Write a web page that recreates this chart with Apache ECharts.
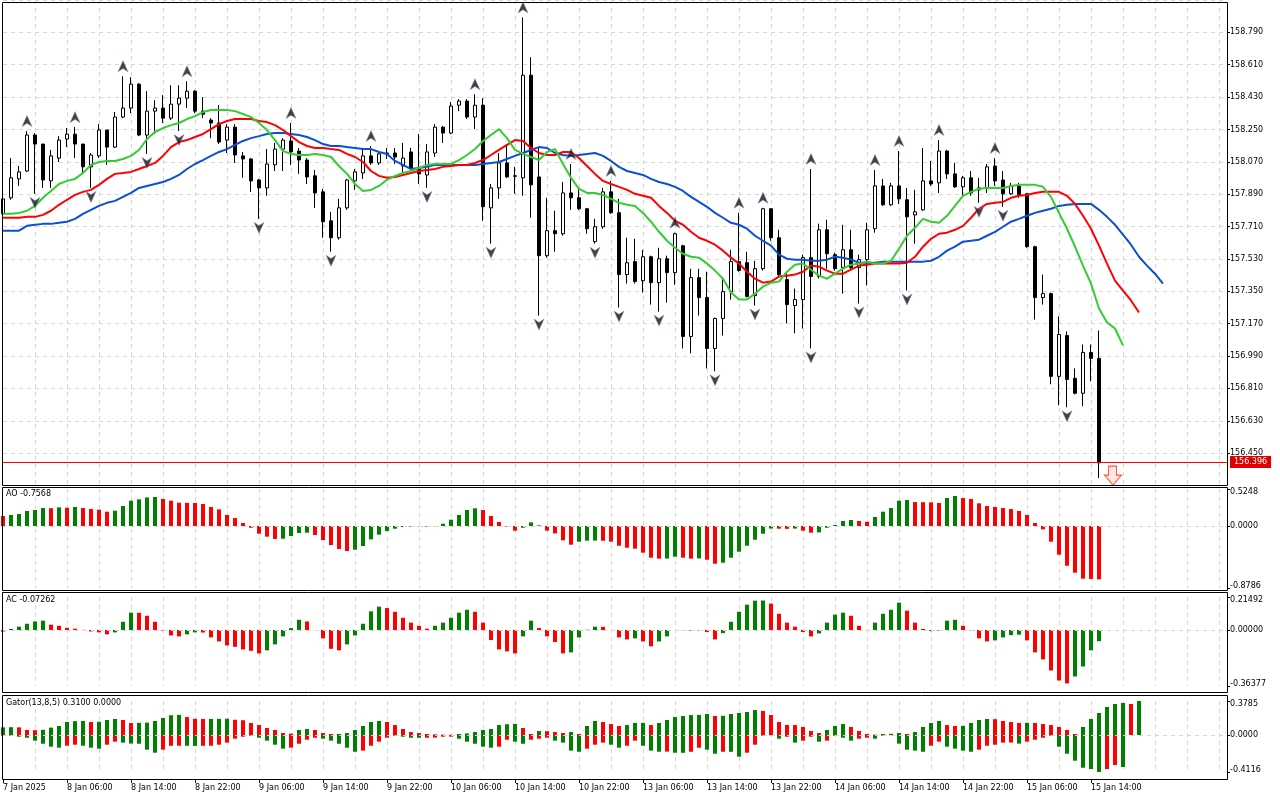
<!DOCTYPE html>
<html>
<head>
<meta charset="utf-8">
<script src="https://cdn.jsdelivr.net/npm/echarts@6/dist/echarts.min.js"></script>
<style>
html, body { margin: 0; padding: 0; background: #fff; }
#chart { width: 1280px; height: 800px; }
</style>
</head>
<body>
<div id="chart"></div>
<script>
// H1 bars, 7 Jan 22:00 .. 15 Jan 15:00
var timeLabels = ['7 Jan 2025', '8 Jan 06:00', '8 Jan 14:00', '8 Jan 22:00', '9 Jan 06:00', '9 Jan 14:00',
    '9 Jan 22:00', '10 Jan 06:00', '10 Jan 14:00', '10 Jan 22:00', '13 Jan 06:00', '13 Jan 14:00',
    '13 Jan 22:00', '14 Jan 06:00', '14 Jan 14:00', '14 Jan 22:00', '15 Jan 06:00', '15 Jan 14:00'];

var opens = [157.781,157.870,157.975,158.019,158.219,158.169,157.964,158.091,158.197,158.224,
    158.169,158.042,158.103,158.247,158.152,158.319,158.369,158.502,158.219,158.352,
    158.369,158.313,158.391,158.424,158.463,158.352,158.302,158.286,158.191,158.263,
    158.103,158.086,157.969,157.925,158.053,158.141,158.186,158.130,158.080,157.992,
    157.903,157.742,157.648,157.814,157.964,158.008,158.103,158.064,158.119,158.119,
    158.047,158.125,158.030,157.997,158.119,158.263,158.230,158.385,158.408,158.319,
    158.385,157.814,157.925,158.064,157.992,157.981,158.552,157.986,157.548,157.687,
    157.670,157.897,157.870,157.809,157.626,157.709,157.903,157.787,157.443,157.515,
    157.409,157.542,157.398,157.531,157.454,157.603,157.099,157.426,157.315,157.032,
    157.199,157.348,157.515,157.509,157.326,157.476,157.809,157.648,157.415,157.271,
    157.304,157.537,157.432,157.692,157.554,157.482,157.581,157.482,157.526,157.698,
    157.936,157.831,157.936,157.859,157.775,157.803,157.964,157.953,158.130,158.003,
    157.931,157.981,157.914,157.925,158.047,157.969,157.892,157.936,157.892,157.598,
    157.315,157.337,156.877,157.104,156.866,156.783,157.010,156.977];
var highs = [157.875,158.091,158.047,158.241,158.230,158.169,158.136,158.213,158.258,158.263,
    158.169,158.119,158.280,158.247,158.347,158.546,158.541,158.507,158.463,158.413,
    158.441,158.496,158.496,158.518,158.469,158.430,158.313,158.385,158.280,158.280,
    158.125,158.091,157.975,158.141,158.175,158.202,158.286,158.147,158.091,158.025,
    157.920,157.792,157.864,157.975,158.030,158.147,158.158,158.119,158.147,158.147,
    158.175,158.147,158.224,158.169,158.280,158.269,158.402,158.419,158.419,158.446,
    158.424,157.947,158.119,158.169,158.042,158.873,158.652,158.147,157.870,157.798,
    157.958,158.058,157.920,157.814,157.753,157.925,157.964,157.864,157.648,157.642,
    157.581,157.548,157.592,157.548,157.676,157.609,157.476,157.476,157.459,157.204,
    157.426,157.581,157.787,157.570,157.520,157.814,157.809,157.692,157.448,157.365,
    157.554,158.030,157.726,157.748,157.565,157.720,157.692,157.554,157.731,158.025,
    157.975,157.953,158.130,157.925,157.914,158.147,158.075,158.191,158.136,158.064,
    157.992,158.019,157.981,158.058,158.091,158.019,157.953,157.953,157.897,157.603,
    157.443,157.343,157.210,157.127,156.921,157.054,157.054,157.132];
var lows = [157.770,157.859,157.936,158.014,157.892,157.925,157.925,158.069,158.152,158.091,
    158.003,157.925,158.091,158.053,158.147,158.313,158.341,158.213,158.114,158.224,
    158.286,158.302,158.241,158.369,158.341,158.313,158.202,158.169,158.119,158.064,
    157.981,157.903,157.753,157.881,158.019,158.019,158.053,158.003,157.947,157.814,
    157.648,157.570,157.637,157.803,157.914,157.975,158.053,158.053,158.086,158.058,
    158.003,158.030,157.947,157.925,158.097,158.175,158.224,158.352,158.308,158.252,
    157.742,157.615,157.864,157.981,157.892,157.881,157.759,157.215,157.537,157.570,
    157.659,157.803,157.803,157.670,157.615,157.698,157.781,157.260,157.393,157.393,
    157.343,157.276,157.237,157.287,157.387,157.032,157.005,157.215,156.921,156.905,
    157.104,157.304,157.459,157.315,157.271,157.465,157.631,157.432,157.171,157.116,
    157.143,157.032,157.421,157.476,157.465,157.337,157.470,157.282,157.382,157.676,
    157.825,157.825,157.836,157.354,157.615,157.798,157.936,157.897,157.975,157.925,
    157.881,157.881,157.842,157.897,157.936,157.820,157.886,157.870,157.592,157.193,
    157.276,156.833,156.716,156.705,156.777,156.711,156.849,156.312];
var closes = [157.864,157.981,158.014,158.219,158.169,157.969,158.103,158.191,158.224,158.169,
    158.042,158.108,158.247,158.152,158.319,158.369,158.502,158.219,158.352,158.369,
    158.313,158.391,158.424,158.463,158.352,158.335,158.286,158.180,158.263,158.108,
    158.086,157.964,157.925,158.058,158.141,158.191,158.125,158.080,157.986,157.897,
    157.737,157.648,157.814,157.969,158.014,158.103,158.064,158.114,158.114,158.097,
    158.091,158.036,158.003,158.125,158.263,158.230,158.380,158.408,158.319,158.385,
    157.820,157.925,158.064,157.986,157.990,158.552,157.942,157.548,157.687,157.670,
    157.897,157.870,157.809,157.698,157.709,157.903,157.787,157.443,157.509,157.404,
    157.542,157.398,157.531,157.454,157.670,157.099,157.426,157.315,157.032,157.199,
    157.348,157.515,157.465,157.321,157.476,157.809,157.648,157.443,157.276,157.304,
    157.537,157.432,157.692,157.559,157.476,157.581,157.482,157.526,157.692,157.936,
    157.831,157.936,157.864,157.764,157.792,157.964,157.947,158.130,158.003,157.931,
    157.981,157.897,157.925,158.042,157.964,157.892,157.936,157.886,157.598,157.315,
    157.337,156.877,157.110,156.860,156.783,157.010,156.977,156.396];

// Alligator lines as drawn (jaw/teeth/lips run 8/5/3 bars past the last candle)
var jaw = [157.687,157.687,157.687,157.714,157.720,157.725,157.725,157.731,157.737,157.753,
    157.781,157.803,157.825,157.842,157.853,157.875,157.897,157.925,157.936,157.947,
    157.958,157.975,157.997,158.030,158.058,158.080,158.103,158.125,158.141,158.164,
    158.186,158.202,158.213,158.225,158.230,158.230,158.225,158.219,158.208,158.191,
    158.169,158.158,158.158,158.152,158.147,158.141,158.141,158.125,158.114,158.075,
    158.053,158.030,158.036,158.042,158.053,158.053,158.053,158.053,158.053,158.053,
    158.058,158.064,158.069,158.086,158.103,158.119,158.136,158.152,158.147,158.119,
    158.108,158.103,158.108,158.114,158.119,158.103,158.075,158.042,158.019,158.008,
    157.997,157.975,157.958,157.947,157.931,157.908,157.875,157.847,157.820,157.786,
    157.759,157.731,157.720,157.698,157.659,157.631,157.604,157.554,157.531,157.526,
    157.526,157.520,157.520,157.526,157.542,157.537,157.526,157.509,157.509,157.509,
    157.515,157.515,157.515,157.515,157.515,157.515,157.520,157.542,157.576,157.598,
    157.626,157.631,157.637,157.659,157.681,157.709,157.737,157.753,157.770,157.786,
    157.798,157.809,157.825,157.831,157.836,157.836,157.836,157.803,157.764,157.720,
    157.665,157.609,157.542,157.493,157.448,157.393];
var teeth = [157.759,157.759,157.759,157.764,157.764,157.775,157.798,157.831,157.859,157.886,
    157.903,157.914,157.942,157.975,158.003,158.008,158.014,158.030,158.047,158.064,
    158.103,158.152,158.180,158.191,158.208,158.225,158.252,158.280,158.297,158.308,
    158.308,158.308,158.297,158.291,158.274,158.247,158.213,158.180,158.158,158.147,
    158.147,158.141,158.136,158.114,158.097,158.069,158.019,157.992,157.981,157.986,
    157.997,158.008,158.019,158.025,158.030,158.042,158.047,158.053,158.053,158.064,
    158.080,158.108,158.136,158.164,158.191,158.186,158.147,158.119,158.108,158.108,
    158.125,158.125,158.091,158.047,158.003,157.964,157.947,157.931,157.914,157.892,
    157.881,157.870,157.825,157.786,157.742,157.720,157.681,157.648,157.631,157.609,
    157.576,157.537,157.504,157.459,157.420,157.398,157.404,157.432,157.437,157.443,
    157.459,157.493,157.487,157.465,157.448,157.448,157.470,157.493,157.498,157.504,
    157.504,157.504,157.504,157.509,157.542,157.598,157.642,157.670,157.676,157.692,
    157.714,157.759,157.809,157.836,157.842,157.847,157.870,157.881,157.886,157.897,
    157.903,157.903,157.903,157.881,157.836,157.770,157.698,157.604,157.504,157.409,
    157.354,157.299,157.232];
var lips = [157.781,157.781,157.786,157.798,157.825,157.870,157.908,157.947,157.964,157.975,
    158.008,158.053,158.069,158.075,158.075,158.086,158.103,158.136,158.197,158.236,
    158.258,158.274,158.286,158.308,158.324,158.347,158.358,158.358,158.358,158.352,
    158.336,158.319,158.286,158.247,158.191,158.130,158.114,158.108,158.108,158.114,
    158.108,158.097,158.047,158.003,157.947,157.908,157.914,157.936,157.970,157.992,
    158.008,158.019,158.036,158.053,158.058,158.058,158.058,158.080,158.108,158.141,
    158.186,158.219,158.252,158.202,158.136,158.114,158.097,158.080,158.125,158.141,
    158.058,157.981,157.920,157.897,157.897,157.886,157.864,157.842,157.831,157.825,
    157.786,157.737,157.681,157.631,157.592,157.559,157.542,157.537,157.504,157.465,
    157.420,157.343,157.304,157.304,157.337,157.376,157.398,157.404,157.459,157.498,
    157.504,157.470,157.437,157.420,157.448,157.476,157.498,157.504,157.515,157.504,
    157.504,157.520,157.587,157.659,157.703,157.753,157.737,157.731,157.770,157.825,
    157.881,157.903,157.920,157.925,157.925,157.925,157.936,157.942,157.942,157.942,
    157.931,157.875,157.786,157.698,157.598,157.493,157.393,157.254,157.177,157.143,
    157.049];

var upFractals = [3, 9, 15, 23, 36, 46, 59, 65, 71, 76, 84, 92, 95, 101, 109, 112, 117, 124];
var downFractals = [4, 11, 18, 22, 32, 41, 53, 61, 67, 74, 77, 82, 89, 94, 101, 107, 113, 122, 125, 133];

var bidPrice = 156.396;
var sellArrow = [139, 156.325];

var aoValues = [0.142,0.156,0.170,0.213,0.227,0.255,0.253,0.265,0.26,0.27,
    0.255,0.241,0.232,0.203,0.217,0.284,0.359,0.378,0.405,0.411,
    0.383,0.359,0.33,0.328,0.326,0.312,0.27,0.236,0.156,0.113,
    0.043,-0.024,-0.109,-0.151,-0.184,-0.18,-0.142,-0.099,-0.095,-0.128,
    -0.199,-0.27,-0.326,-0.355,-0.336,-0.284,-0.189,-0.123,-0.071,-0.038,
    -0.014,-0.009,-0.005,-0.009,-0.004,0.033,0.09,0.156,0.227,0.251,
    0.227,0.142,0.057,-0.009,-0.066,-0.024,0.052,0.009,-0.066,-0.105,
    -0.203,-0.265,-0.222,-0.208,-0.206,-0.209,-0.222,-0.279,-0.307,-0.321,
    -0.378,-0.449,-0.463,-0.461,-0.435,-0.449,-0.463,-0.459,-0.478,-0.534,
    -0.52,-0.449,-0.364,-0.279,-0.194,-0.109,-0.036,-0.038,-0.04,-0.036,
    -0.066,-0.095,-0.09,-0.024,0.014,0.071,0.085,0.071,0.061,0.128,
    0.203,0.255,0.359,0.369,0.34,0.338,0.336,0.326,0.397,0.426,
    0.397,0.383,0.322,0.284,0.27,0.255,0.241,0.213,0.156,0.043,
    -0.047,-0.222,-0.407,-0.563,-0.662,-0.747,-0.75,-0.7568];
var acValues = [-0.01,0.007,0.022,0.041,0.056,0.061,0.035,0.028,0.015,0.009,
    0.001,-0.009,-0.015,-0.028,-0.015,0.054,0.113,0.112,0.093,0.054,
    -0.004,-0.035,-0.041,-0.028,-0.015,-0.016,-0.048,-0.074,-0.1,-0.109,
    -0.126,-0.135,-0.152,-0.132,-0.093,-0.041,0.013,0.067,0.056,0.0,
    -0.054,-0.122,-0.132,-0.093,-0.035,0.041,0.122,0.152,0.143,0.119,
    0.08,0.048,0.028,0.009,0.028,0.048,0.08,0.113,0.132,0.119,
    0.048,-0.065,-0.126,-0.139,-0.152,-0.041,0.061,0.013,-0.041,-0.078,
    -0.152,-0.145,-0.048,0.002,0.022,0.021,0.0,-0.048,-0.061,-0.054,
    -0.074,-0.106,-0.074,-0.041,0.0,-0.001,-0.004,-0.003,-0.013,-0.061,
    -0.02,0.054,0.119,0.165,0.191,0.192,0.172,0.106,0.048,0.022,
    -0.013,-0.041,-0.022,0.048,0.1,0.113,0.093,0.028,-0.001,0.048,
    0.106,0.132,0.178,0.126,0.048,0.007,-0.007,-0.004,0.061,0.067,
    0.028,-0.002,-0.054,-0.074,-0.067,-0.048,-0.033,-0.03,-0.067,-0.145,
    -0.191,-0.263,-0.328,-0.347,-0.302,-0.237,-0.132,-0.07262];
var gatorUp = [0.085,0.087,0.085,0.056,0.054,0.058,0.082,0.1,0.145,0.154,
    0.157,0.145,0.147,0.167,0.178,0.167,0.134,0.136,0.138,0.156,
    0.189,0.22,0.224,0.2,0.18,0.178,0.179,0.18,0.181,0.17,
    0.165,0.134,0.111,0.078,0.056,0.022,0.015,0.056,0.067,0.056,
    0.022,0.011,0.012,0.022,0.056,0.1,0.145,0.156,0.145,0.111,
    0.067,0.033,0.022,0.011,0.007,0.004,0.002,0.011,0.018,0.033,
    0.056,0.067,0.111,0.12,0.124,0.078,0.011,0.045,0.043,0.033,
    0.022,0.033,0.011,0.1,0.156,0.145,0.122,0.1,0.111,0.134,
    0.136,0.111,0.134,0.167,0.2,0.212,0.222,0.224,0.234,0.212,
    0.214,0.234,0.245,0.256,0.278,0.267,0.223,0.145,0.112,0.111,
    0.089,0.045,0.022,0.056,0.1,0.122,0.089,0.045,0.011,0.004,
    0.011,0.013,0.022,0.011,0.033,0.089,0.134,0.156,0.111,0.1,
    0.102,0.134,0.167,0.178,0.176,0.156,0.145,0.134,0.136,0.134,
    0.122,0.111,0.089,0.056,0.011,0.089,0.178,0.245,0.312,0.345,
    0.356,0.345,0.3785];
var gatorDown = [0.007,0.006,0.019,0.03,0.063,0.097,0.13,0.141,0.119,0.108,
    0.119,0.141,0.152,0.108,0.074,0.085,0.095,0.097,0.163,0.197,
    0.163,0.12,0.119,0.12,0.121,0.12,0.119,0.108,0.085,0.041,
    0.019,0.007,0.03,0.063,0.108,0.152,0.141,0.097,0.052,0.03,
    0.041,0.063,0.097,0.141,0.186,0.174,0.119,0.074,0.03,0.007,
    0.019,0.03,0.031,0.03,0.029,0.019,0.018,0.041,0.074,0.097,
    0.13,0.141,0.13,0.052,0.074,0.097,0.052,0.041,0.03,0.063,
    0.085,0.174,0.186,0.152,0.108,0.085,0.108,0.141,0.119,0.063,
    0.119,0.174,0.186,0.185,0.197,0.198,0.186,0.141,0.163,0.208,
    0.186,0.187,0.241,0.197,0.108,0.007,0.004,0.041,0.019,0.085,
    0.063,0.019,0.074,0.063,0.007,0.03,0.063,0.041,0.03,0.041,
    0.007,0.002,0.096,0.163,0.174,0.186,0.119,0.074,0.13,0.152,
    0.174,0.186,0.163,0.119,0.108,0.085,0.084,0.096,0.074,0.052,
    0.03,0.007,0.13,0.208,0.286,0.364,0.379,0.412,0.379,0.334,
    0.356];

var aoTicks = [0.5248, 0, -0.8786];
var acTicks = [0.21492, 0, -0.36377];
var gatorTicks = [0.3785, 0, -0.4116];

var GREEN = '#008000', RED = '#ff0000';
var FONT = 'DejaVu Sans';
var slotCount = 154;

var categories = [];
for (var k = 0; k < slotCount; k++) {
    categories.push(k % 8 === 0 && k / 8 < timeLabels.length ? timeLabels[k / 8] : '');
}

var candles = opens.map(function (o, i) {
    return [o, closes[i], lows[i], highs[i]];
});

// green when the bar is higher than the one before it
function colourBars(values, firstColour, sign) {
    return values.map(function (v, i) {
        var c = i === 0 ? firstColour : (v > values[i - 1] ? GREEN : RED);
        return { value: v * sign, itemStyle: { color: c } };
    });
}

var dash = { color: '#d6d6d6', width: 1, type: [4, 4] };
var labelText = { fontSize: 8, fontFamily: FONT, color: '#000' };

// the end labels of a sub window sit a little inside the frame
function sideAxis(grid, ticks, digits) {
    return {
        type: 'value', gridIndex: grid, position: 'right',
        min: ticks[2], max: ticks[0],
        axisLine: { show: false },
        axisTick: { show: true, length: 3, lineStyle: { color: '#000' }, customValues: ticks },
        axisLabel: {
            customValues: ticks, margin: 3, color: '#000', fontSize: 8, fontFamily: FONT,
            formatter: function (v) {
                var s = v.toFixed(digits);
                if (v === ticks[0]) return '{t|' + s + '}';
                if (v === ticks[2]) return '{b|' + s + '}';
                return s;
            },
            rich: {
                t: Object.assign({ padding: [6, 0, 0, 0] }, labelText),
                b: Object.assign({ padding: [0, 0, 4, 0] }, labelText)
            }
        },
        splitLine: { show: false }
    };
}

function timeAxis(grid) {
    return {
        type: 'category', gridIndex: grid, data: categories, boundaryGap: false,
        axisLine: { show: false }, axisTick: { show: false }, axisLabel: { show: false },
        splitLine: { show: true, interval: function (i) { return i % 4 === 0 && i > 0; }, lineStyle: dash }
    };
}

function zeroLine() {
    return { silent: true, symbol: ['none', 'none'], label: { show: false },
        lineStyle: dash, data: [{ yAxis: 0 }] };
}

var upArrow = 'path://M5,0 L10,10 L5,7 L0,10 Z';
var downArrow = 'path://M0,0 L5,3 L10,0 L5,10 Z';

var chart = echarts.init(document.getElementById('chart'));

var option = {
    animation: false,
    backgroundColor: '#fff',
    textStyle: { fontFamily: FONT, fontSize: 8 },
    grid: [
        { left: 3, right: 53, top: -1.5, height: 487 },
        { left: 3, right: 53, top: 489, height: 99 },
        { left: 3, right: 53, top: 597, height: 89 },
        { left: 3, right: 53, top: 701, height: 71 },
        { left: 3, right: 53, top: 778, height: 1 }
    ],
    xAxis: [
        timeAxis(0), timeAxis(1), timeAxis(2), timeAxis(3),
        {
            type: 'category', gridIndex: 4, data: categories, boundaryGap: false,
            axisLine: { show: false },
            axisTick: { show: true, length: 4, lineStyle: { color: '#000' },
                interval: function (i) { return categories[i] !== ''; } },
            axisLabel: { interval: 0, align: 'left', margin: 5, color: '#000', fontSize: 8, fontFamily: FONT },
            splitLine: { show: false }
        }
    ],
    yAxis: [
        {
            type: 'value', gridIndex: 0, position: 'right',
            min: 156.27, max: 158.97, interval: 0.18,
            axisLine: { show: false },
            axisTick: { show: true, length: 3, lineStyle: { color: '#000' } },
            axisLabel: { showMinLabel: false, showMaxLabel: false, margin: 3, color: '#000',
                fontSize: 8, fontFamily: FONT,
                formatter: function (v) { return v.toFixed(3); } },
            splitLine: { show: true, lineStyle: dash }
        },
        sideAxis(1, aoTicks, 4),
        sideAxis(2, acTicks, 5),
        sideAxis(3, gatorTicks, 4),
        { type: 'value', gridIndex: 4, show: false }
    ],
    series: [
        {
            name: 'USDJPY', type: 'candlestick', xAxisIndex: 0, yAxisIndex: 0,
            data: candles, barWidth: 4,
            itemStyle: { color: '#ffffff', color0: '#000000', borderColor: '#000000', borderColor0: '#000000', borderWidth: 1 },
            markLine: {
                silent: true, symbol: ['none', 'none'],
                lineStyle: { color: '#ff0000', width: 1, type: 'solid' },
                label: { show: true, position: 'end', distance: 3, formatter: bidPrice.toFixed(3),
                    color: '#fff', backgroundColor: '#e00000', padding: [2, 4, 2, 4],
                    fontSize: 8, fontFamily: FONT },
                data: [{ yAxis: bidPrice }]
            }
        },
        { name: 'Jaw', type: 'line', xAxisIndex: 0, yAxisIndex: 0, data: jaw, symbol: 'none',
            lineStyle: { color: '#0a4fd6', width: 2 } },
        { name: 'Teeth', type: 'line', xAxisIndex: 0, yAxisIndex: 0, data: teeth, symbol: 'none',
            lineStyle: { color: '#ff0000', width: 2 } },
        { name: 'Lips', type: 'line', xAxisIndex: 0, yAxisIndex: 0, data: lips, symbol: 'none',
            lineStyle: { color: '#33cc33', width: 2 } },
        {
            name: 'Fractal up', type: 'scatter', xAxisIndex: 0, yAxisIndex: 0,
            data: upFractals.map(function (i) { return [i, highs[i]]; }),
            symbol: upArrow, symbolSize: [10, 11], symbolOffset: [0, -10],
            itemStyle: { color: '#141414', borderColor: '#7a8fb8', borderWidth: 0.6 }, z: 5
        },
        {
            name: 'Fractal down', type: 'scatter', xAxisIndex: 0, yAxisIndex: 0,
            data: downFractals.map(function (i) { return [i, lows[i]]; }),
            symbol: downArrow, symbolSize: [10, 11], symbolOffset: [0, 9],
            itemStyle: { color: '#141414', borderColor: '#7a8fb8', borderWidth: 0.6 }, z: 5
        },
        {
            name: 'Sell', type: 'scatter', xAxisIndex: 0, yAxisIndex: 0,
            data: [sellArrow],
            symbol: 'path://M4,0 L12,0 L12,9 L17,9 L8.5,19 L0,9 L4,9 Z',
            symbolSize: [17, 19], symbolOffset: [-2, 0],
            itemStyle: { color: '#ffe0dc', borderColor: '#ff2a00', borderWidth: 1 }, z: 6
        },
        {
            name: 'AO', type: 'bar', xAxisIndex: 1, yAxisIndex: 1, barWidth: 4,
            data: colourBars(aoValues, RED, 1), markLine: zeroLine()
        },
        {
            name: 'AC', type: 'bar', xAxisIndex: 2, yAxisIndex: 2, barWidth: 4,
            data: colourBars(acValues, RED, 1), markLine: zeroLine()
        },
        {
            name: 'Gator up', type: 'bar', xAxisIndex: 3, yAxisIndex: 3, barWidth: 4, barGap: '-100%',
            data: colourBars(gatorUp, GREEN, 1)
        },
        {
            name: 'Gator down', type: 'bar', xAxisIndex: 3, yAxisIndex: 3, barWidth: 4, barGap: '-100%',
            data: colourBars(gatorDown, RED, -1), markLine: zeroLine()
        }
    ],
    graphic: [
        { type: 'rect', z: 100, shape: { x: 2.5, y: 2.5, width: 1225, height: 483 }, style: { fill: 'none', stroke: '#000', lineWidth: 1 } },
        { type: 'rect', z: 100, shape: { x: 2.5, y: 487.5, width: 1225, height: 103 }, style: { fill: 'none', stroke: '#000', lineWidth: 1 } },
        { type: 'rect', z: 100, shape: { x: 2.5, y: 592.5, width: 1225, height: 100 }, style: { fill: 'none', stroke: '#000', lineWidth: 1 } },
        { type: 'rect', z: 100, shape: { x: 2.5, y: 695.5, width: 1225, height: 84 }, style: { fill: 'none', stroke: '#000', lineWidth: 1 } },
        { type: 'text', z: 100, left: 6, top: 490, style: { text: 'AO -0.7568', font: '8px "DejaVu Sans"', fill: '#000' } },
        { type: 'text', z: 100, left: 6, top: 596, style: { text: 'AC -0.07262', font: '8px "DejaVu Sans"', fill: '#000' } },
        { type: 'text', z: 100, left: 6, top: 699, style: { text: 'Gator(13,8,5) 0.3100 0.0000', font: '8px "DejaVu Sans"', fill: '#000' } }
    ]
};

chart.setOption(option);
</script>
</body>
</html>
